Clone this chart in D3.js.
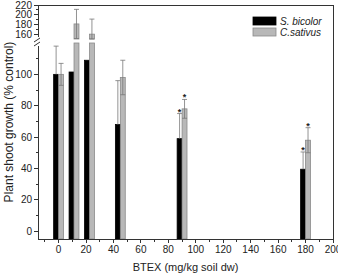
<!DOCTYPE html>
<meta charset="utf-8">
<style>
body { margin: 0; background: #fff; }
text { font-family: "Liberation Sans", Arial, sans-serif; fill: #222; }
.ax { stroke: #333; stroke-width: 1; fill: none; shape-rendering: crispEdges; }
</style>
<body>
<script src="https://d3js.org/d3.v7.min.js"></script>
<script>

// BTEX doses (mg/kg soil dw)
var doses = [0, 11.25, 22.5, 45, 90, 180];
var bicolor = [100, 101.5, 109, 68, 59, 39.5];
var bicolorErr = [18, 0, 0, 28, 16, 11];
var sativus = [100, 181, 160, 98, 78, 58];
var sativusErr = [7, 30, 31, 11, 6, 8];
var bicolorStar = [false, false, false, false, true, true];
var sativusStar = [false, false, false, false, true, true];
var xTicks = [0, 20, 40, 60, 80, 100, 120, 140, 160, 180, 200];
var lowTicks = [0, 20, 40, 60, 80, 100];
var highTicks = [160, 180, 200, 220];

var width = 338, height = 273;
var mLeft = 38, mRight = 333, mTop = 5, mBottom = 239;
var breakLo = 43, breakHi = 39;

var svg = d3.select("body").append("svg")
    .attr("width", width)
    .attr("height", height);

var x = d3.scaleLinear().domain([-15, 200]).range([mLeft, mRight]);
var yLow = d3.scaleLinear().domain([-5, 120]).range([mBottom, breakLo]);
var yHigh = d3.scaleLinear().domain([150, 220]).range([breakHi, mTop]);

function y(v) { return v > 120 ? yHigh(Math.max(v, 150)) : yLow(v); }

var barW = x(3.6) - x(0);

var series = [
  {vals: bicolor, err: bicolorErr, star: bicolorStar, fill: "#000", stroke: "#000", off: -1},
  {vals: sativus, err: sativusErr, star: sativusStar, fill: "#b8b8b8", stroke: "#8a8a8a", off: 0}
];

series.forEach(function(s) {
  var g = svg.append("g");
  doses.forEach(function(d, i) {
    var x0 = x(d) + s.off * barW;
    var v = s.vals[i];
    if (v > 120) {
      g.append("rect").attr("x", x0).attr("width", barW)
          .attr("y", breakLo).attr("height", mBottom - breakLo)
          .attr("fill", s.fill).attr("stroke", s.stroke).attr("stroke-width", 0.8);
      g.append("rect").attr("x", x0).attr("width", barW)
          .attr("y", yHigh(v)).attr("height", breakHi - yHigh(v))
          .attr("fill", s.fill).attr("stroke", s.stroke).attr("stroke-width", 0.8);
    } else {
      g.append("rect").attr("x", x0).attr("width", barW)
          .attr("y", yLow(v)).attr("height", mBottom - yLow(v))
          .attr("fill", s.fill).attr("stroke", s.stroke).attr("stroke-width", 0.8);
    }
    var e = s.err[i];
    if (e > 0) {
      var cx = x0 + barW / 2;
      var lo = s.off < 0 ? v : v - e;
      g.append("line").attr("x1", cx).attr("x2", cx)
          .attr("y1", y(lo)).attr("y2", y(v + e))
          .attr("stroke", "#777").attr("stroke-width", 0.8);
      g.append("line").attr("x1", cx - 2.5).attr("x2", cx + 2.5)
          .attr("y1", y(v + e)).attr("y2", y(v + e))
          .attr("stroke", "#777").attr("stroke-width", 0.8);
      if (s.off >= 0)
        g.append("line").attr("x1", cx - 2.5).attr("x2", cx + 2.5)
            .attr("y1", y(v - e)).attr("y2", y(v - e))
            .attr("stroke", "#777").attr("stroke-width", 0.8);
    }
    if (s.star[i]) {
      g.append("text").attr("x", x0 + barW / 2).attr("y", y(v + e) + 1)
          .attr("text-anchor", "middle").style("font-size", "9px")
          .style("font-weight", "bold").text("*");
    }
  });
});

// frame
svg.append("line").attr("class", "ax").attr("x1", mLeft).attr("x2", mRight).attr("y1", mTop).attr("y2", mTop);
svg.append("line").attr("class", "ax").attr("x1", mRight).attr("x2", mRight).attr("y1", mTop).attr("y2", mBottom);
svg.append("line").attr("class", "ax").attr("x1", mLeft).attr("x2", mRight).attr("y1", mBottom).attr("y2", mBottom);
svg.append("line").attr("class", "ax").attr("x1", mLeft).attr("x2", mLeft).attr("y1", mTop).attr("y2", breakHi - 2);
svg.append("line").attr("class", "ax").attr("x1", mLeft).attr("x2", mLeft).attr("y1", breakLo + 3).attr("y2", mBottom);
[0, 4].forEach(function(dy) {
  svg.append("line").attr("x1", mLeft - 4).attr("x2", mLeft + 2)
      .attr("y1", breakHi + 3 + dy).attr("y2", breakHi - 1 + dy)
      .attr("stroke", "#333").attr("stroke-width", 1);
});

// x ticks
d3.range(-10, 200, 20).forEach(function(t) {
  svg.append("line").attr("class", "ax").attr("x1", x(t)).attr("x2", x(t))
      .attr("y1", mBottom).attr("y2", mBottom + 2.5);
});
xTicks.forEach(function(t) {
  svg.append("line").attr("class", "ax").attr("x1", x(t)).attr("x2", x(t))
      .attr("y1", mBottom).attr("y2", mBottom + 4);
  svg.append("text").attr("x", x(t)).attr("y", mBottom + 14)
      .attr("text-anchor", "middle").style("font-size", "10px").text(t);
});

// y ticks
d3.range(10, 120, 20).forEach(function(t) {
  svg.append("line").attr("class", "ax").attr("x1", mLeft - 2.5).attr("x2", mLeft)
      .attr("y1", yLow(t)).attr("y2", yLow(t));
});
lowTicks.forEach(function(t) {
  svg.append("line").attr("class", "ax").attr("x1", mLeft - 4).attr("x2", mLeft)
      .attr("y1", yLow(t)).attr("y2", yLow(t));
  svg.append("text").attr("x", mLeft - 6).attr("y", yLow(t) + 3.5)
      .attr("text-anchor", "end").style("font-size", "10px").text(t);
});
[170, 190, 210].forEach(function(t) {
  svg.append("line").attr("class", "ax").attr("x1", mLeft - 2.5).attr("x2", mLeft)
      .attr("y1", yHigh(t)).attr("y2", yHigh(t));
});
highTicks.forEach(function(t) {
  svg.append("line").attr("class", "ax").attr("x1", mLeft - 4).attr("x2", mLeft)
      .attr("y1", yHigh(t)).attr("y2", yHigh(t));
  svg.append("text").attr("x", mLeft - 6).attr("y", yHigh(t) + 3.5)
      .attr("text-anchor", "end").style("font-size", "10px").text(t);
});

// titles
svg.append("text").attr("x", (mLeft + mRight) / 2).attr("y", 271)
    .attr("text-anchor", "middle").style("font-size", "11px").text("BTEX (mg/kg soil dw)");
svg.append("text").attr("transform", "translate(13," + (mTop + mBottom) / 2 + ") rotate(-90)")
    .attr("text-anchor", "middle").style("font-size", "12px").text("Plant shoot growth (% control)");

// legend
var legend = [["S. bicolor", "#000", "#000"], ["C.sativus", "#b8b8b8", "#8a8a8a"]];
legend.forEach(function(l, i) {
  svg.append("rect").attr("x", 253).attr("y", 17 + i * 11).attr("width", 23).attr("height", 8)
      .attr("fill", l[1]).attr("stroke", l[2]).attr("stroke-width", 0.8);
  svg.append("text").attr("x", 280).attr("y", 24.5 + i * 11)
      .style("font-size", "10px").style("font-style", "italic").text(l[0]);
});

</script>
